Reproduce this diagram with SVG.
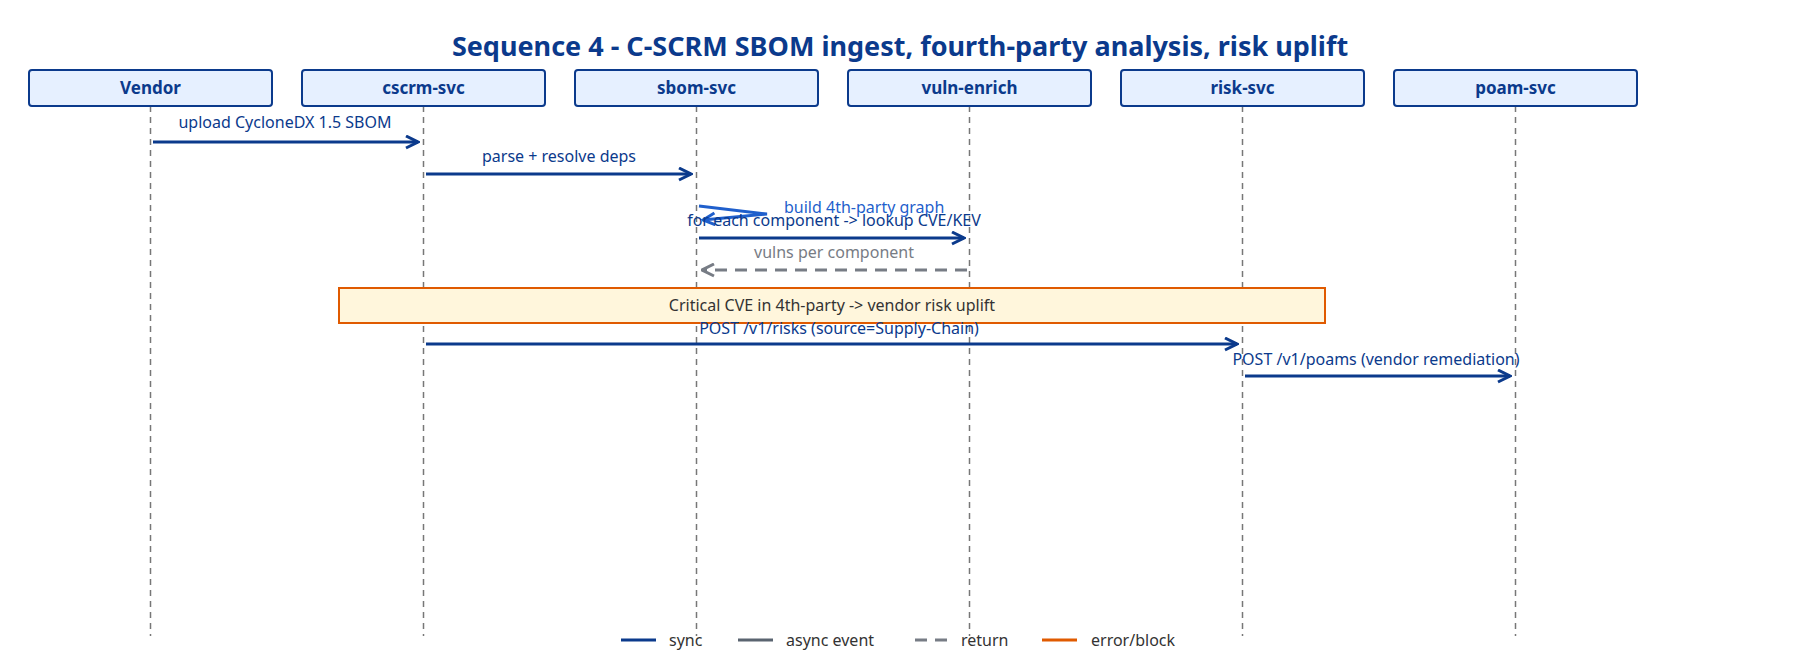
<svg xmlns="http://www.w3.org/2000/svg" width="1800" height="671" viewBox="0 0 1800 671">
<defs>
<style>
text{font-family:"Noto Sans","Liberation Sans",sans-serif;}
.title{font-size:27px;font-weight:bold;fill:#0b3a8c;text-anchor:middle}
.box{fill:#e6f0ff;stroke:#0b3a8c;stroke-width:2}
.bl{font-size:17px;font-weight:bold;fill:#0b3a8c;text-anchor:middle}
.life{stroke:#777;stroke-width:1.5;stroke-dasharray:6,5}
.sync{stroke:#0b3a8c;stroke-width:3;fill:none;marker-end:url(#a)}
.ret{stroke:#777c85;stroke-width:3;fill:none;stroke-dasharray:12,8;marker-end:url(#ag)}
.ml{font-size:16px;fill:#0b3a8c;text-anchor:middle}
.lg{font-size:16px;fill:#333}
</style>
<marker id="a" viewBox="0 0 10 10" refX="9" refY="5" markerWidth="5" markerHeight="5" orient="auto"><path d="M1,1 L9,5 L1,9" fill="none" stroke="#0b3a8c" stroke-width="2"/></marker>
<marker id="al" viewBox="0 0 10 10" refX="9" refY="5" markerWidth="5" markerHeight="5" orient="auto"><path d="M1,1 L9,5 L1,9" fill="none" stroke="#1f5fcc" stroke-width="2"/></marker>
<marker id="ag" viewBox="0 0 10 10" refX="9" refY="5" markerWidth="5" markerHeight="5" orient="auto"><path d="M1,1 L9,5 L1,9" fill="none" stroke="#777c85" stroke-width="2"/></marker>
</defs>
<rect width="1800" height="671" fill="#fff"/>
<text class="title" x="900" y="56">Sequence 4 - C-SCRM SBOM ingest, fourth-party analysis, risk uplift</text>
<g id="lifelines">
<line class="life" x1="150.5" y1="106" x2="150.5" y2="636"/>
<line class="life" x1="423.5" y1="106" x2="423.5" y2="636"/>
<line class="life" x1="696.5" y1="106" x2="696.5" y2="636"/>
<line class="life" x1="969.5" y1="106" x2="969.5" y2="636"/>
<line class="life" x1="1242.5" y1="106" x2="1242.5" y2="636"/>
<line class="life" x1="1515.5" y1="106" x2="1515.5" y2="636"/>
</g>
<g id="n-vendor"><rect class="box" x="29" y="70" width="243" height="36" rx="3"/><text class="bl" x="150.5" y="94">Vendor</text></g>
<g id="n-cscrm"><rect class="box" x="302" y="70" width="243" height="36" rx="3"/><text class="bl" x="423.5" y="94">cscrm-svc</text></g>
<g id="n-sbom"><rect class="box" x="575" y="70" width="243" height="36" rx="3"/><text class="bl" x="696.5" y="94">sbom-svc</text></g>
<g id="n-vuln"><rect class="box" x="848" y="70" width="243" height="36" rx="3"/><text class="bl" x="969.5" y="94">vuln-enrich</text></g>
<g id="n-risk"><rect class="box" x="1121" y="70" width="243" height="36" rx="3"/><text class="bl" x="1242.5" y="94">risk-svc</text></g>
<g id="n-poam"><rect class="box" x="1394" y="70" width="243" height="36" rx="3"/><text class="bl" x="1515.5" y="94">poam-svc</text></g>
<g id="note"><rect x="339" y="288" width="986" height="35" fill="#fff6dc" stroke="#e05a00" stroke-width="2"/><text x="832" y="311" font-size="16" fill="#333" text-anchor="middle">Critical CVE in 4th-party -&gt; vendor risk uplift</text></g>
<g id="connectors">
<line class="sync" x1="153" y1="142" x2="418" y2="142"/>
<text class="ml" x="285" y="128">upload CycloneDX 1.5 SBOM</text>
<line class="sync" x1="426" y1="174" x2="691" y2="174"/>
<text class="ml" x="559" y="162">parse + resolve deps</text>
<polyline points="699,206 767,214 703,220" stroke="#1f5fcc" stroke-width="3" fill="none" marker-end="url(#al)"/>
<text x="784" y="213" font-size="16" fill="#1f5fcc">build 4th-party graph</text>
<line class="sync" x1="699" y1="238" x2="964" y2="238"/>
<text class="ml" x="834" y="226">for each component -&gt; lookup CVE/KEV</text>
<line class="ret" x1="967" y1="270" x2="702" y2="270"/>
<text x="834" y="258" font-size="16" fill="#777c85" text-anchor="middle">vulns per component</text>
<line class="sync" x1="426" y1="344" x2="1237" y2="344"/>
<text class="ml" x="839" y="334">POST /v1/risks (source=Supply-Chain)</text>
<line class="sync" x1="1245" y1="376" x2="1510" y2="376"/>
<text class="ml" x="1376" y="365">POST /v1/poams (vendor remediation)</text>
</g>
<g id="legend">
<line x1="621" y1="640" x2="656" y2="640" stroke="#0b3a8c" stroke-width="3"/><text class="lg" x="669" y="646">sync</text>
<line x1="738" y1="640" x2="773" y2="640" stroke="#5a6470" stroke-width="3"/><text class="lg" x="786" y="646">async event</text>
<line x1="915" y1="640" x2="950" y2="640" stroke="#777c85" stroke-width="3" stroke-dasharray="12,8"/><text class="lg" x="961" y="646">return</text>
<line x1="1042" y1="640" x2="1077" y2="640" stroke="#e05a00" stroke-width="3"/><text class="lg" x="1091" y="646">error/block</text>
</g>
</svg>
